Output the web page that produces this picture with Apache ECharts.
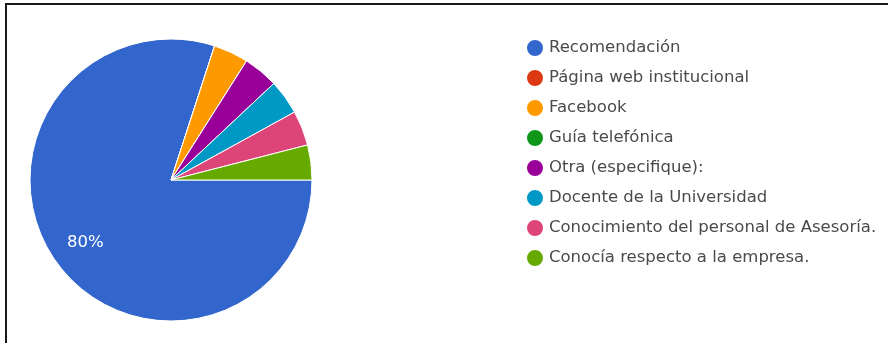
<!DOCTYPE html>
<html>
<head>
<meta charset="utf-8">
<script src="https://cdn.jsdelivr.net/npm/echarts@6/dist/echarts.min.js"></script>
<style>
  html, body { margin: 0; padding: 0; background: #fff; }
  #chart { width: 888px; height: 343px; }
</style>
</head>
<body>
<div id="chart"></div>
<script>
// Categories and their share (%) of responses
const categories = [
  'Recomendación',
  'Página web institucional',
  'Facebook',
  'Guía telefónica',
  'Otra (especifique):',
  'Docente de la Universidad',
  'Conocimiento del personal de Asesoría.',
  'Conocía respecto a la empresa.'
];
const values = [80, 0, 4, 0, 4, 4, 4, 4];
const colors = ['#3366cc', '#dc3912', '#ff9900', '#109618', '#990099', '#0099c6', '#dd4477', '#66aa00'];

const pieData = categories.map((name, i) => ({ name, value: values[i] }));
const FONT = '"DejaVu Sans", Arial, sans-serif';

const chart = echarts.init(document.getElementById('chart'), null, { renderer: 'canvas' });
chart.setOption({
  animation: false,
  color: colors,
  graphic: [
    { type: 'rect', shape: { x: 5, y: 3, width: 883, height: 2 }, style: { fill: '#1a1a1a' }, silent: true },
    { type: 'rect', shape: { x: 5, y: 3, width: 2, height: 340 }, style: { fill: '#1a1a1a' }, silent: true }
  ],
  legend: {
    orient: 'vertical',
    left: 520,
    top: 33,
    data: categories,
    icon: 'circle',
    itemWidth: 18,
    itemHeight: 18,
    itemGap: 10,
    selectedMode: false,
    textStyle: {
      fontFamily: FONT,
      fontSize: 16.5,
      color: '#4a4a4a',
      lineHeight: 18
    }
  },
  series: [
    {
      type: 'pie',
      center: [171, 180],
      radius: [0, 141],
      startAngle: 0,
      clockwise: true,
      data: pieData,
      label: { show: false },
      labelLine: { show: false },
      itemStyle: { borderColor: '#fff', borderWidth: 1 },
      emphasis: { disabled: true }
    },
    {
      // Transparent layer used only to place the percentage labels further out
      type: 'pie',
      center: [171, 180],
      radius: [0, 206],
      startAngle: 0,
      clockwise: true,
      silent: true,
      legendHoverLink: false,
      data: pieData,
      itemStyle: { color: 'transparent', borderWidth: 0 },
      labelLine: { show: false },
      label: {
        show: true,
        position: 'inside',
        fontFamily: FONT,
        fontSize: 16.5,
        color: '#fff',
        formatter: p => (p.value >= 10 ? p.value + '%' : '')
      },
      emphasis: { disabled: true }
    }
  ]
});
</script>
</body>
</html>
